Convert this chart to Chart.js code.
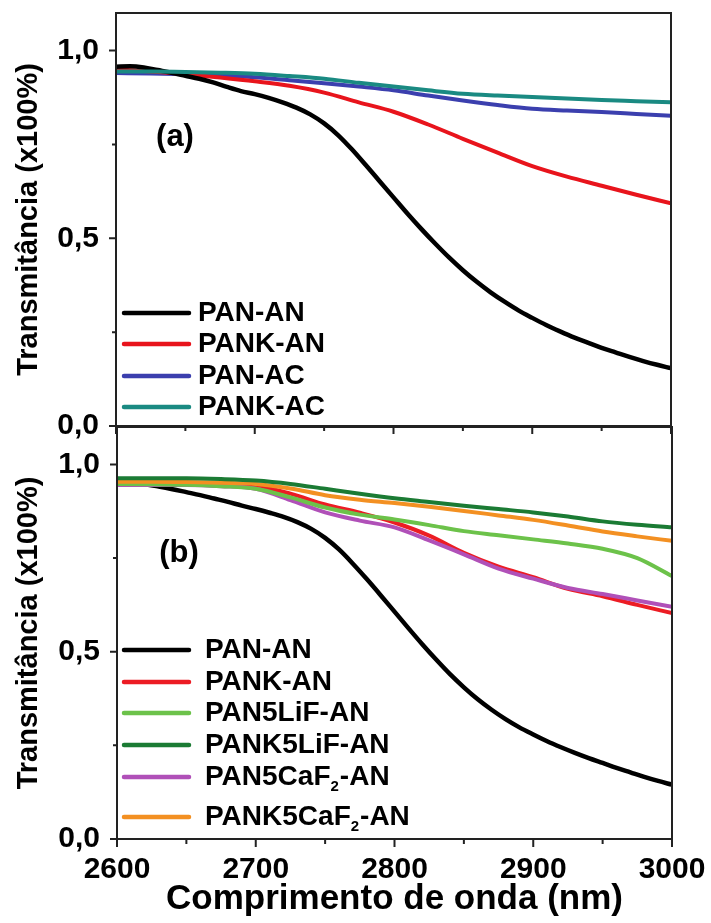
<!DOCTYPE html>
<html>
<head>
<meta charset="utf-8">
<script src="https://cdn.jsdelivr.net/npm/chart.js@4.4.1/dist/chart.umd.min.js"></script>
<style>
  html, body { margin: 0; padding: 0; background: #fff; }
  #wrap { position: relative; width: 711px; height: 923px; overflow: hidden; }
  .panel { position: absolute; left: 0; width: 711px; }
  #panelA { top: 0; height: 440px; }
  #panelB { top: 413px; height: 510px; }
</style>
</head>
<body>
<div id="wrap">
  <div class="panel" id="panelA"><canvas id="chartA"></canvas></div>
  <div class="panel" id="panelB"><canvas id="chartB"></canvas></div>
</div>
<script>
// wavelength grids (nm)
const lambda = [2600, 2625, 2650, 2675, 2700, 2725, 2750, 2775, 2800, 2825, 2850, 2875, 2900, 2925, 2950, 2975, 3000];
const lambdaFine = [2600, 2610, 2620, 2630, 2640, 2650, 2660, 2670, 2680, 2690, 2700, 2710, 2720, 2730, 2740,
  2750, 2760, 2770, 2780, 2790, 2800, 2810, 2820, 2830, 2840, 2850, 2860, 2870, 2880, 2890, 2900, 2910, 2920,
  2930, 2940, 2950, 2960, 2970, 2980, 2990, 3000];

// panel (a)
const panAnA = [0.957, 0.958, 0.955, 0.948, 0.941, 0.933, 0.925, 0.915, 0.903, 0.892, 0.884, 0.874, 0.862, 0.848,
  0.830, 0.806, 0.775, 0.737, 0.695, 0.652, 0.609, 0.566, 0.525, 0.486, 0.449, 0.415, 0.384, 0.356, 0.331, 0.308,
  0.288, 0.269, 0.252, 0.236, 0.222, 0.208, 0.196, 0.184, 0.173, 0.163, 0.154];
const pankAnA = [0.950, 0.944, 0.937, 0.928, 0.918, 0.906, 0.888, 0.862, 0.837, 0.803, 0.765, 0.728, 0.692, 0.664, 0.640, 0.616, 0.593];
const panAcA = [0.940, 0.939, 0.937, 0.934, 0.929, 0.921, 0.913, 0.904, 0.894, 0.880, 0.867, 0.855, 0.845, 0.840, 0.836, 0.831, 0.826];
const pankAcA = [0.944, 0.944, 0.943, 0.941, 0.938, 0.932, 0.925, 0.914, 0.904, 0.894, 0.885, 0.880, 0.876, 0.872, 0.868, 0.865, 0.862];

// panel (b)
const panAnB = [0.950, 0.950, 0.947, 0.941, 0.934, 0.926, 0.918, 0.909, 0.900, 0.890, 0.881, 0.871, 0.860, 0.846,
  0.828, 0.804, 0.773, 0.735, 0.694, 0.651, 0.607, 0.563, 0.520, 0.479, 0.440, 0.405, 0.373, 0.345, 0.320, 0.298,
  0.279, 0.261, 0.245, 0.230, 0.216, 0.203, 0.190, 0.178, 0.166, 0.155, 0.145];
const pankAnB = [0.945, 0.945, 0.945, 0.945, 0.942, 0.922, 0.893, 0.871, 0.845, 0.810, 0.764, 0.727, 0.699, 0.668, 0.648, 0.625, 0.603];
const pan5LiF = [0.948, 0.947, 0.946, 0.942, 0.935, 0.912, 0.885, 0.866, 0.853, 0.838, 0.822, 0.811, 0.800, 0.789, 0.775, 0.750, 0.702];
const pank5LiF = [0.963, 0.963, 0.963, 0.961, 0.957, 0.948, 0.935, 0.922, 0.910, 0.900, 0.890, 0.881, 0.872, 0.861, 0.848, 0.839, 0.832];
const pan5CaF2 = [0.945, 0.945, 0.945, 0.942, 0.935, 0.905, 0.872, 0.850, 0.832, 0.797, 0.760, 0.722, 0.695, 0.670, 0.654, 0.637, 0.620];
const pank5CaF2 = [0.954, 0.954, 0.953, 0.951, 0.948, 0.936, 0.918, 0.906, 0.897, 0.887, 0.876, 0.864, 0.852, 0.837, 0.821, 0.808, 0.796];

const labelsA = ["PAN-AN", "PANK-AN", "PAN-AC", "PANK-AC"];
const labelsB = ["PAN-AN", "PANK-AN", "PAN5LiF-AN", "PANK5LiF-AN", "PAN5CaF₂-AN", "PANK5CaF₂-AN"];

const FONT = "'Liberation Sans', Arial, sans-serif";
Chart.defaults.font.family = FONT;
Chart.defaults.font.weight = "bold";
Chart.defaults.color = "#000";

function pts(xs, ys) {
  return xs.map((x, i) => ({ x: x, y: ys[i] }));
}

function line(label, xs, ys, color, order, width) {
  return {
    label: label,
    data: pts(xs, ys),
    borderColor: color,
    backgroundColor: color,
    borderWidth: width || 4,
    pointRadius: 0,
    fill: false,
    cubicInterpolationMode: "monotone",
    order: order
  };
}

function decimalComma(v) {
  return v.toFixed(1).replace(".", ",");
}

// the axes should not push the plot box around for label overhang
function noOverhang(s) {
  s.paddingTop = 0;
  s.paddingBottom = 0;
  s.paddingLeft = 0;
  s.paddingRight = 0;
}

// box around the plot plus Origin-style major/minor ticks
const framePlugin = {
  id: "frame",
  afterDraw(chart) {
    const { ctx, chartArea: a, scales } = chart;
    ctx.save();
    ctx.strokeStyle = "#222";
    ctx.lineWidth = 2;
    ctx.strokeRect(a.left, a.top, a.right - a.left, a.bottom - a.top);

    ctx.beginPath();
    for (let w = 2600; w <= 3000; w += 50) {
      const px = scales.x.getPixelForValue(w);
      const len = w % 100 === 0 ? 8 : 5;
      ctx.moveTo(px, a.bottom);
      ctx.lineTo(px, a.bottom + len);
    }
    for (let v = 0; v <= 1.0001; v += 0.25) {
      const py = scales.y.getPixelForValue(v);
      const major = Math.abs(v * 2 - Math.round(v * 2)) < 1e-6;
      ctx.moveTo(a.left, py);
      ctx.lineTo(a.left - (major ? 7 : 4), py);
    }
    ctx.stroke();
    ctx.restore();
  }
};

// hand-drawn key so that "CaF2" can carry its subscript
const keyPlugin = {
  id: "key",
  afterDraw(chart, args, opts) {
    const ctx = chart.ctx;
    ctx.save();
    ctx.textBaseline = "middle";
    ctx.textAlign = "left";
    chart.data.datasets.forEach((ds, i) => {
      const y = opts.rows[i];
      ctx.strokeStyle = ds.borderColor;
      ctx.lineWidth = 4.5;
      ctx.lineCap = "round";
      ctx.beginPath();
      ctx.moveTo(opts.x0, y);
      ctx.lineTo(opts.x1, y);
      ctx.stroke();

      ctx.fillStyle = "#000";
      const parts = ds.label.split("₂");
      let x = opts.textX;
      ctx.font = "bold " + opts.size + "px " + FONT;
      ctx.fillText(parts[0], x, y);
      x += ctx.measureText(parts[0]).width;
      if (parts.length > 1) {
        ctx.font = "bold " + Math.round(opts.size * 0.55) + "px " + FONT;
        ctx.fillText("2", x, y + 10);
        x += ctx.measureText("2").width + 1;
        ctx.font = "bold " + opts.size + "px " + FONT;
        ctx.fillText(parts[1], x, y);
      }
    });
    if (opts.tag) {
      ctx.font = "bold 31px " + FONT;
      ctx.textAlign = "center";
      ctx.fillText(opts.tag.text, opts.tag.x, opts.tag.y);
    }
    ctx.restore();
  }
};

function makeOptions(cfg) {
  return {
    responsive: true,
    maintainAspectRatio: false,
    animation: false,
    devicePixelRatio: 1,
    layout: { padding: cfg.padding },
    plugins: {
      legend: { display: false },
      tooltip: { enabled: false },
      key: cfg.key
    },
    scales: {
      x: {
        type: "linear",
        min: 2600,
        max: 3000,
        grid: { display: false },
        border: { display: false },
        ticks: {
          display: cfg.xLabels,
          stepSize: 50,
          autoSkip: false,
          maxRotation: 0,
          padding: 5,
          font: { size: 30, weight: "bold" },
          callback: (v) => (v % 100 === 0 ? String(v) : "")
        },
        title: {
          display: cfg.xLabels,
          text: "Comprimento de onda (nm)",
          font: { size: 35, weight: "bold" },
          padding: { top: 0, bottom: 3 }
        },
        afterFit: (s) => { noOverhang(s); s.height = cfg.xHeight; }
      },
      y: {
        min: 0,
        max: 1.1,
        grid: { display: false },
        border: { display: false },
        ticks: {
          stepSize: 0.25,
          padding: 9,
          font: { size: 30, weight: "bold" },
          callback: (v) => (Math.abs(v * 2 - Math.round(v * 2)) < 1e-6 && v <= 1 ? decimalComma(v) : "")
        },
        title: {
          display: true,
          text: "Transmitância (x100%)",
          font: { size: 29, weight: "bold" },
          padding: { top: 12, bottom: 0 }
        },
        afterFit: (s) => { noOverhang(s); s.width = cfg.yWidth; }
      }
    }
  };
}

new Chart(document.getElementById("chartA"), {
  type: "line",
  data: {
    datasets: [
      line(labelsA[0], lambdaFine, panAnA, "#000000", 1, 4.5),
      line(labelsA[1], lambda, pankAnA, "#e8141c", 2),
      line(labelsA[2], lambda, panAcA, "#3b3fae", 3),
      line(labelsA[3], lambda, pankAcA, "#1a8a82", 0)
    ]
  },
  options: makeOptions({
    padding: { left: 0, right: 40, top: 13, bottom: 0 },
    yWidth: 116,
    xHeight: 14,
    xLabels: false,
    key: { x0: 124, x1: 189, textX: 198, size: 28, rows: [313, 344, 376, 407], tag: { text: "(a)", x: 175, y: 137 } }
  }),
  plugins: [framePlugin, keyPlugin]
});

new Chart(document.getElementById("chartB"), {
  type: "line",
  data: {
    datasets: [
      line(labelsB[0], lambdaFine, panAnB, "#000000", 9, 4.5),
      line(labelsB[1], lambda, pankAnB, "#ec1c24", 4),
      line(labelsB[2], lambda, pan5LiF, "#6cc24a", 2),
      line(labelsB[3], lambda, pank5LiF, "#1b7b34", 0),
      line(labelsB[4], lambda, pan5CaF2, "#b050b8", 3),
      line(labelsB[5], lambda, pank5CaF2, "#f39022", 1)
    ]
  },
  options: makeOptions({
    padding: { left: 0, right: 39, top: 14, bottom: 0 },
    yWidth: 117,
    xHeight: 84,
    xLabels: true,
    key: { x0: 124, x1: 189, textX: 205, size: 28, rows: [237, 269, 300, 332, 364, 404], tag: { text: "(b)", x: 179, y: 140 } }
  }),
  plugins: [framePlugin, keyPlugin]
});
</script>
</body>
</html>
